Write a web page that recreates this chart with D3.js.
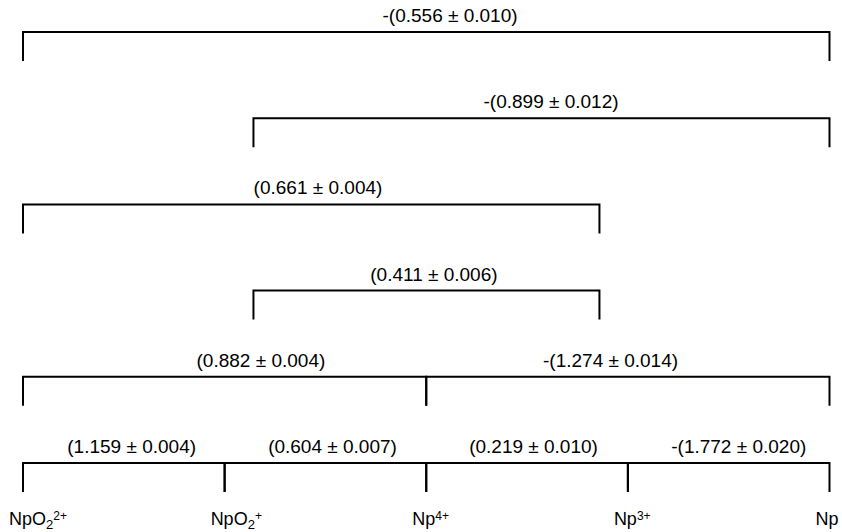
<!DOCTYPE html>
<html>
<head>
<meta charset="utf-8">
<script src="https://cdn.jsdelivr.net/npm/d3@7"></script>
<style>
  html, body { margin: 0; padding: 0; background: #fff; }
  svg { display: block; }
  text { font-family: "Liberation Sans", Arial, sans-serif; fill: #000; }
</style>
</head>
<body>
<svg id="chart" width="842" height="532"></svg>
<script>
// Species (oxidation states, left to right)
const speciesBase = ["NpO", "NpO", "Np", "Np", "Np"];
const speciesSub  = ["2", "2", "", "", ""];
const speciesSup  = ["2+", "+", "4+", "3+", ""];

// Redox couples: bracket start / end along the species axis (species-index units), row (top = 0)
const coupleStart = [0, 1.143, 0, 1.143, 0, 2, 0, 1, 2, 3];
const coupleEnd   = [4, 4, 2.859, 2.859, 2, 4, 1, 2, 3, 4];
const coupleRow   = [0, 1, 2, 3, 4, 4, 5, 5, 5, 5];
// Standard potentials (V) and uncertainties
const potential   = [-0.556, -0.899, 0.661, 0.411, 0.882, -1.274, 1.159, 0.604, 0.219, -1.772];
const uncertainty = [0.010, 0.012, 0.004, 0.006, 0.004, 0.014, 0.004, 0.007, 0.010, 0.020];
// Label centre, in species-index units
const labelAt = [2.118, 2.619, 1.463, 2.038, 1.180, 2.914, 0.539, 1.535, 2.532, 3.550];

const svg = d3.select("#chart");
const x = d3.scaleLinear().domain([0, speciesBase.length - 1]).range([23, 829.5]);
const y = d3.scaleLinear().domain([0, 5]).range([32, 463]);
const drop = 29;
const fmt = d3.format(".3f");

const couples = coupleStart.map((s, i) => ({
  from: s, to: coupleEnd[i], row: coupleRow[i],
  v: potential[i], e: uncertainty[i], at: labelAt[i]
}));

const g = svg.append("g");
g.selectAll("path.br").data(couples).join("path")
  .attr("class", "br")
  .attr("fill", "none")
  .attr("stroke", "#000")
  .attr("stroke-width", 2)
  .attr("stroke-linejoin", "miter")
  .attr("stroke-linecap", "butt")
  .attr("d", d => {
    const x0 = x(d.from), x1 = x(d.to), yy = y(d.row);
    return `M${x0},${yy + drop}V${yy}H${x1}V${yy + drop}`;
  });

g.selectAll("text.lab").data(couples).join("text")
  .attr("class", "lab")
  .attr("x", d => x(d.at))
  .attr("y", d => y(d.row) - 10)
  .attr("text-anchor", "middle")
  .attr("font-size", 19)
  .text(d => (d.v < 0 ? "-" : "") + "(" + fmt(Math.abs(d.v)) + " \u00B1 " + fmt(d.e) + ")");

const sp = svg.append("g").selectAll("text").data(speciesBase).join("text")
  .attr("x", (d, i) => x(i) - 14)
  .attr("y", 525)
  .attr("font-size", 18);
sp.each(function(d, i) {
  const t = d3.select(this);
  t.append("tspan").text(d);
  if (speciesSub[i]) t.append("tspan").attr("font-size", 13).attr("dy", 4).text(speciesSub[i]);
  if (speciesSup[i]) t.append("tspan").attr("font-size", 12)
      .attr("dy", speciesSub[i] ? -9 : -5).text(speciesSup[i]);
});
</script>
</body>
</html>
